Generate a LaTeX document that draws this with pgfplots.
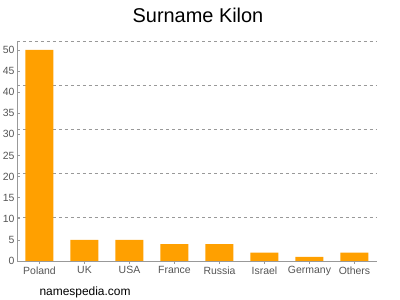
\documentclass[border=0pt]{standalone}
\usepackage{pgfplots}
\pgfplotsset{compat=1.18}
\usepackage{fontspec}
\setmainfont{Liberation Sans}
\definecolor{barorange}{HTML}{FFA000}
\definecolor{axgray}{HTML}{999999}
\definecolor{txtgray}{HTML}{555555}
\begin{document}
\begin{tikzpicture}[x=1bp,y=1bp]
\useasboundingbox (0,0) rectangle (400,300);
\node[font=\fontsize{20}{22}\selectfont] at (198,285) {Surname Kilon};
\node[anchor=west,font=\fontsize{12}{14}\selectfont] at (36,8) {namespedia.com};
\begin{axis}[
  at={(17bp,39bp)}, anchor=south west,
  scale only axis, width=360bp, height=220bp,
  xmin=-0.5, xmax=7.5, ymin=0, ymax=52.1,
  xtick={0,...,7},
  xticklabels={Poland,UK,USA,France,Russia,Israel,Germany,Others},
  ytick={0,5,...,50},
  extra y ticks={10.42,20.84,31.26,41.68,52.1},
  extra y tick labels={},
  extra y tick style={ymajorgrids=true, major tick length=0pt,
    grid style={dashed, color=axgray, line width=0.6pt}},
  axis x line*=bottom, axis y line*=left,
  axis line style={axgray, line width=0.6pt},
  every tick/.style={axgray, line width=0.6pt},
  major tick length=3bp,
  xtick pos=bottom, ytick pos=left,
  tick label style={font=\fontsize{10.5}{12}\selectfont, text=txtgray},
  /pgf/number format/assume math mode=true,
  yticklabel style={xshift=1bp},
  xticklabel style={yshift=1bp},
  ybar, bar width=28bp,
]
\addplot[fill=barorange, draw=none] coordinates {(0,50) (1,5) (2,5) (3,4) (4,4) (5,2) (6,1) (7,2)};
\end{axis}
\end{tikzpicture}
\end{document}
